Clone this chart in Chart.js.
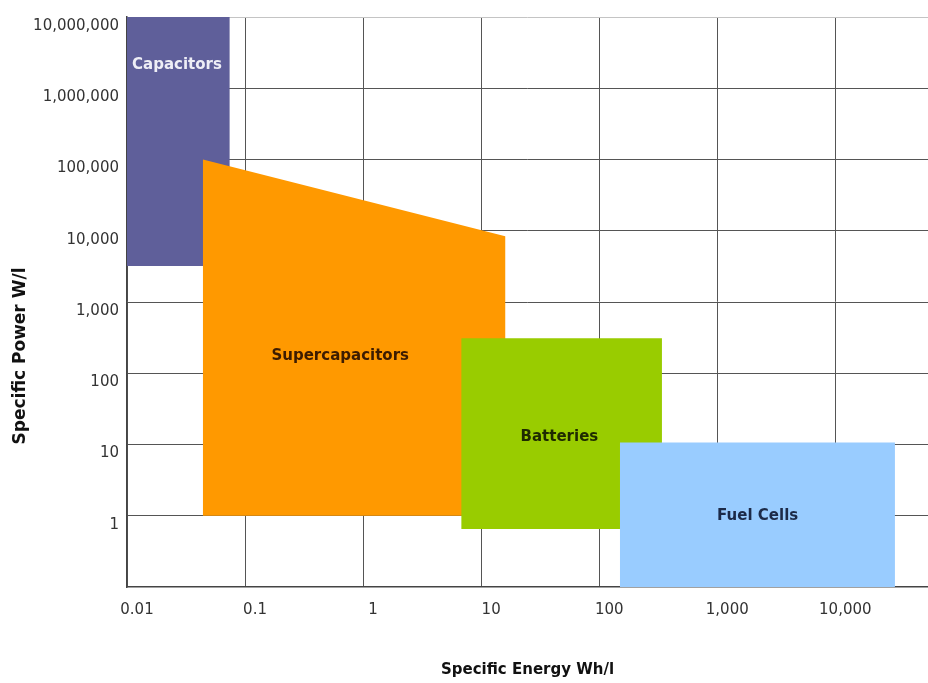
<!DOCTYPE html>
<html>
<head>
<meta charset="utf-8">
<script src="https://cdn.jsdelivr.net/npm/chart.js@4"></script>
<style>
  html, body { margin: 0; padding: 0; background: #fff; }
  #wrap { width: 928px; height: 683px; }
</style>
</head>
<body>
<div id="wrap"><canvas id="ragone" width="928" height="683"></canvas></div>
<script>
// Ragone plot: specific energy (Wh/l) vs specific power (W/l), log-log

const regionNames = ['Capacitors', 'Supercapacitors', 'Batteries', 'Fuel Cells'];

// outline of each region, as [energy, power] corners
const capacitorsPts = [[0.01, 1e7], [0.074, 1e7], [0.074, 3200], [0.01, 3200]];
const supercapPts = [[0.044, 100000], [16, 8400], [16, 1], [0.044, 1]];
const batteriesPts = [[6.8, 310], [340, 310], [340, 0.65], [6.8, 0.65]];
const fuelCellsPts = [[150, 10.7], [32000, 10.7], [32000, 0.1], [150, 0.1]];

// where each region name sits
const labelEnergy = [0.0265, 0.64, 46, 2200];
const labelPower = [2.1e6, 176, 12.5, 0.98];

const xTickValues = [0.01, 0.1, 1, 10, 100, 1000, 10000];
const xTickLabels = ['0.01', '0.1', '1', '10', '100', '1,000', '10,000'];
const yTickValues = [1, 10, 100, 1000, 10000, 100000, 1000000, 10000000];
const yTickLabels = ['1', '10', '100', '1,000', '10,000', '100,000', '1,000,000', '10,000,000'];

const xTitle = 'Specific Energy Wh/l';
const yTitle = 'Specific Power W/l';

const fillColors = ['#5f5f9a', '#ff9900', '#99cc00', '#99ccff'];
const textColors = ['#eeeef6', '#3d1c00', '#1e2a00', '#1c2a48'];

const outlines = [capacitorsPts, supercapPts, batteriesPts, fuelCellsPts];

const datasets = outlines.map((pts, i) => ({
    label: regionNames[i],
    data: pts.map(p => ({ x: p[0], y: p[1] })),
    backgroundColor: fillColors[i],
    borderColor: 'rgba(0,0,0,0)',
    borderWidth: 0,
    pointRadius: 0,
    tension: 0,
    fill: 'shape',
    order: outlines.length - i   // later regions sit on top
}));

// region names on the shapes, plus the power title (it sits below centre in the original)
const regionLabels = {
    id: 'regionLabels',
    afterDatasetsDraw(chart) {
        const ctx = chart.ctx;
        const xs = chart.scales.x, ys = chart.scales.y;
        ctx.save();
        ctx.font = 'bold 15px "DejaVu Sans"';
        ctx.textAlign = 'center';
        ctx.textBaseline = 'middle';
        regionNames.forEach((name, i) => {
            ctx.fillStyle = textColors[i];
            ctx.fillText(name, xs.getPixelForValue(labelEnergy[i]), ys.getPixelForValue(labelPower[i]));
        });
        ctx.restore();
    },
    afterDraw(chart) {
        const ctx = chart.ctx;
        ctx.save();
        ctx.translate(21, 356);
        ctx.rotate(-Math.PI / 2);
        ctx.font = 'bold 17px "DejaVu Sans"';
        ctx.fillStyle = '#111';
        ctx.textAlign = 'center';
        ctx.textBaseline = 'middle';
        ctx.fillText(yTitle, 0, 0);
        ctx.restore();
    }
};

const gridColor = c => (c.tick && c.tick.value === 1e7) ? '#c4c4c4' : '#555';

new Chart(document.getElementById('ragone'), {
    type: 'line',
    data: { datasets: datasets },
    plugins: [regionLabels],
    options: {
        responsive: false,
        animation: false,
        layout: { padding: { top: 15, right: 0, left: 0, bottom: 0 } },
        plugins: {
            legend: { display: false },
            tooltip: { enabled: false }
        },
        scales: {
            x: {
                type: 'logarithmic',
                min: 0.01,
                max: 61000,
                afterBuildTicks: s => { s.ticks = xTickValues.map(v => ({ value: v })); },
                afterFit: s => { s.height = 96; },
                grid: { color: gridColor, lineWidth: 1, drawTicks: false },
                border: { color: '#444', width: 1.5 },
                ticks: {
                    autoSkip: false,
                    maxRotation: 0,
                    padding: 14,
                    labelOffset: 10,
                    color: '#333',
                    font: { family: '"DejaVu Sans"', size: 15 },
                    callback: (v, i) => xTickLabels[i]
                },
                title: {
                    display: true,
                    text: xTitle,
                    color: '#111',
                    font: { family: '"DejaVu Sans"', size: 15, weight: 'bold' },
                    padding: { top: 0, bottom: 4 }
                }
            },
            y: {
                type: 'logarithmic',
                min: 0.1,
                max: 1e7,
                afterBuildTicks: s => { s.ticks = yTickValues.map(v => ({ value: v })); },
                afterFit: s => { s.width = 127; },
                grid: { color: gridColor, lineWidth: 1, drawTicks: false },
                border: { color: '#444', width: 1.5 },
                ticks: {
                    autoSkip: false,
                    padding: 8,
                    labelOffset: 9,
                    color: '#333',
                    font: { family: '"DejaVu Sans"', size: 15 },
                    callback: (v, i) => yTickLabels[i]
                }
            }
        }
    }
});
</script>
</body>
</html>
